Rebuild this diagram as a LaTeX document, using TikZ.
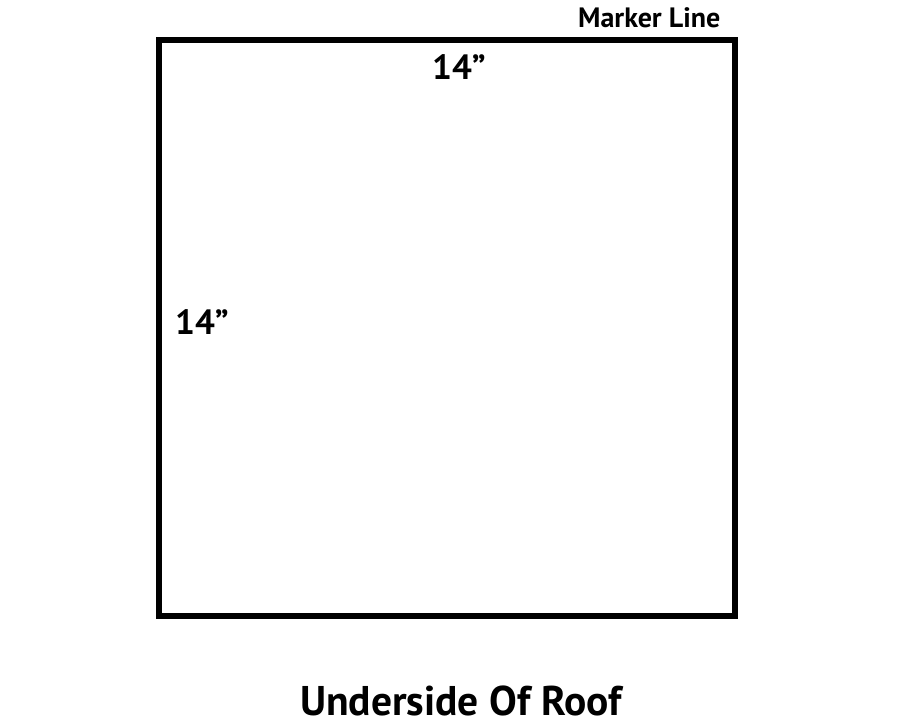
\documentclass[tikz,border=0pt]{standalone}
\usepackage{fontspec}
\setmainfont{PT Sans}
\begin{document}
\begin{tikzpicture}[x=1pt,y=-1pt,
    lbl/.style={font=\bfseries,inner sep=0pt}]
    \useasboundingbox (0,0) rectangle (914,722);
    \draw [line width=5.5pt](159,40) rectangle (735,616);
    \node [lbl,font=\fontsize{28}{32}\selectfont\bfseries,anchor=base west] (marker) at (578,28) {Marker Line};
    \node [lbl,font=\fontsize{35}{40}\selectfont\bfseries,anchor=base west] (top) at (432,80) {14”};
    \node [lbl,font=\fontsize{35}{40}\selectfont\bfseries,anchor=base west] (left) at (175,335) {14”};
    \node [lbl,font=\fontsize{41.5}{48}\selectfont\bfseries,anchor=base west] (title) at (300,715) {Underside Of Roof};
  \end{tikzpicture}
\end{document}
